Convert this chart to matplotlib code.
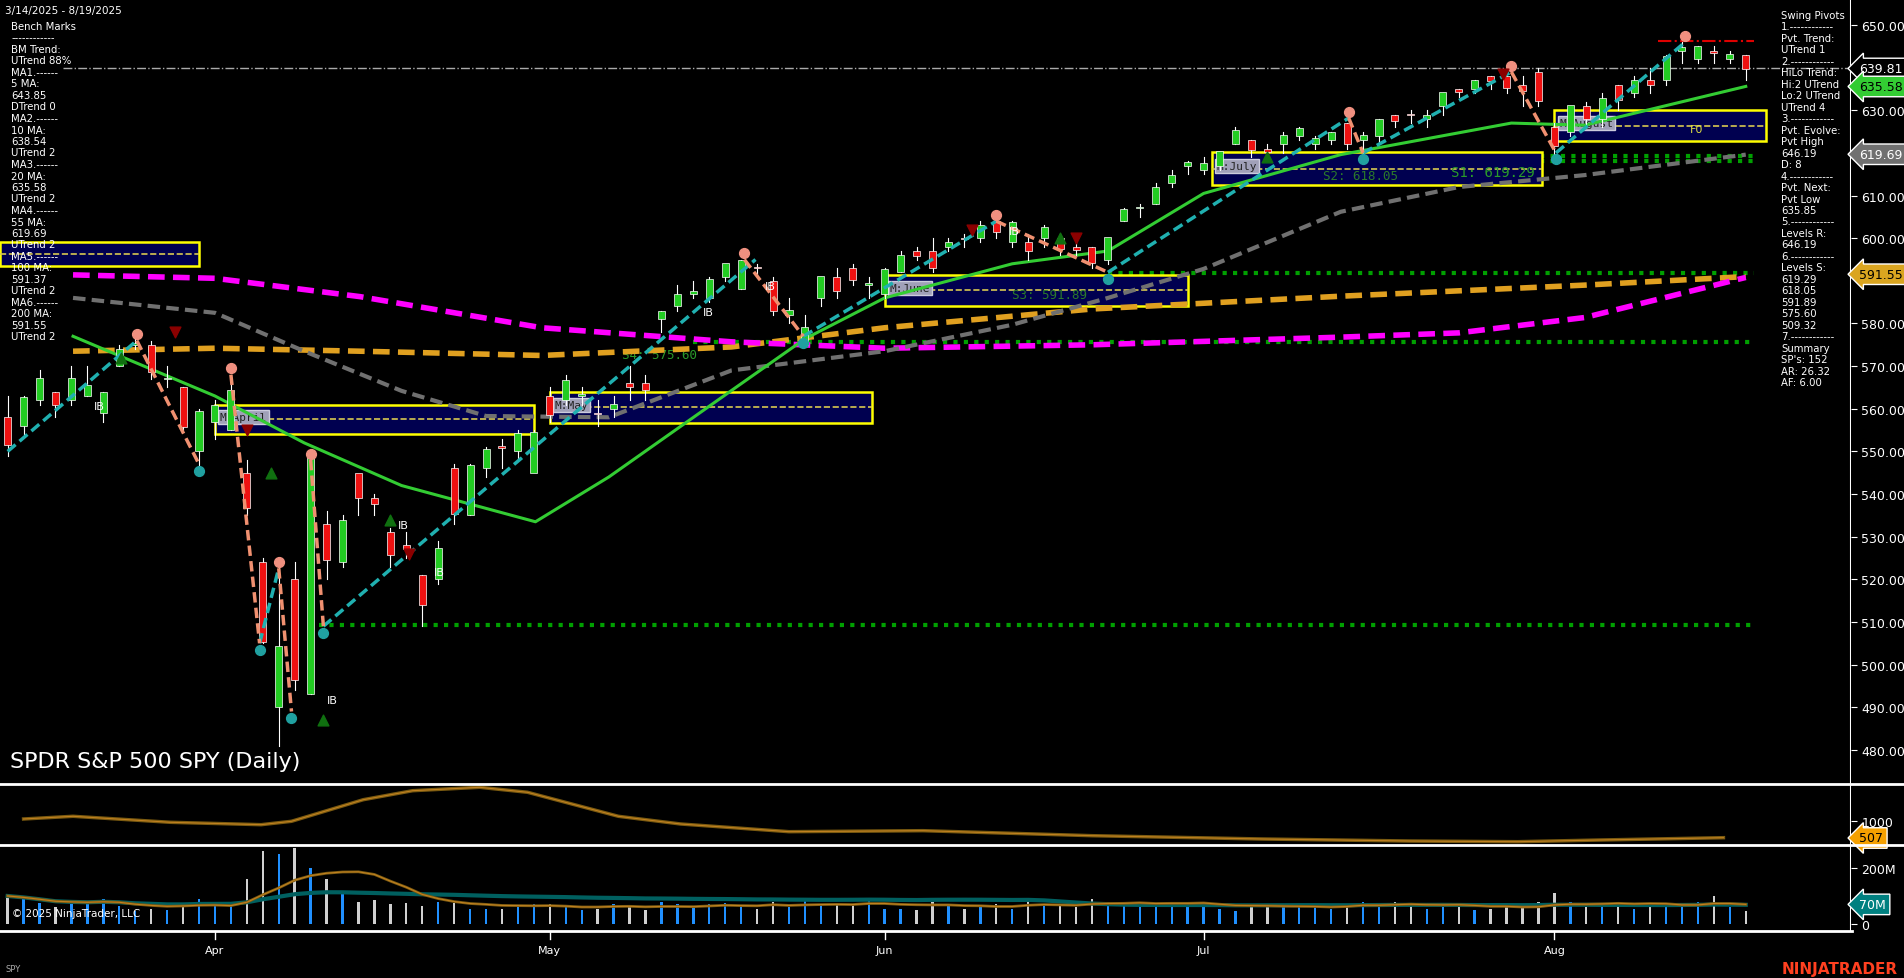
import matplotlib
matplotlib.use("Agg")
import matplotlib.pyplot as plt
import numpy as np
import pandas as pd

W, H = 1904, 979
# ---------------- data ----------------
opens = [558,556,562,564,562,563,559,570,575,575,567,565,550,
         557,555,545,524,490,520,493,533,524,545,539,531,528,521,520,546,535,546,551,550,545,
         563,562,563,559,560,566,566,581,584,587,586,591,588,593,590,582,575,586,591,593,589,
         587,592,597,597,598,600,600,604,599,599,600,600,598,598,595,604,607,608,613,617,
         616,617,622,623,621,622,624,622,623,627,623,624,629,629,628,631,635,635,638,638,636,639,
         626,625,631,628,636,634,637,637,644,642,644,642,643]
highs = [563,563,569,564,570,570,564,575,577,576,570,565,560,
         562,568,548,525,524,524,550,536,535,540,540,532,531,521,529,547,547,551,553,555,555,
         565,568,565,562,563,570,568,583,589,590,591,594,595,594,591,586,582,591,593,594,591,
         593,597,598,600,600,601,604,605,604,601,603,601,600,598,600,607,608,613,616,618,
         619,620,626,623,622,625,626,624,625,627,625,628,629,630,630,634,635,637,638,638,638,640,
         627,631,632,634,636,638,640,643,646,645,645,644,643]
lows = [549,554,561,558,561,563,557,570,574,567,565,555,546,
        553,555,535,505,481,494,493,520,523,535,535,523,525,509,519,533,535,544,546,548,546,
        557,561,561,556,558,562,562,578,583,586,585,590,588,591,582,580,575,584,586,589,586,
        586,592,595,592,597,598,599,600,598,595,598,596,596,593,594,604,605,608,612,615,
        615,616,622,619,618,620,623,621,622,621,619,622,626,627,626,629,633,634,635,634,631,631,
        618,624,626,626,630,633,634,636,641,641,641,641,637]
closes = [551.4,562.8,567.2,561.0,567.1,565.5,564.0,574.1,575.5,568.6,567.1,555.7,559.4,
          561.0,564.5,536.7,505.3,504.4,496.5,548.6,524.6,533.9,539.1,537.6,525.7,527.0,513.9,527.3,535.4,546.7,550.6,550.9,554.3,554.5,
          558.5,566.8,563.5,558.8,561.2,565.1,564.3,583.0,586.8,587.6,590.5,594.2,594.9,592.9,582.9,583.1,579.1,591.2,587.7,590.1,589.4,
          592.7,596.1,595.9,593.1,599.1,599.7,603.1,601.4,603.8,597.0,602.7,597.5,597.2,594.3,600.2,606.8,607.1,611.9,614.9,617.9,
          617.7,620.5,625.3,620.7,620.3,624.1,625.8,623.6,624.8,622.1,624.2,628.0,627.6,628.8,628.9,634.2,634.4,637.1,636.9,635.3,634.5,632.1,
          621.7,631.2,628.0,632.8,632.3,637.2,635.9,642.7,644.9,645.0,643.4,643.3,639.8]
volumes = [100,90,75,60,70,70,90,65,45,55,50,70,90,
           75,75,160,260,250,270,200,160,110,80,85,70,75,65,80,75,55,55,55,65,70,
           70,65,50,55,70,60,50,80,70,60,70,75,60,55,80,60,85,70,75,70,90,
           55,55,50,80,70,55,65,70,55,90,70,70,60,90,80,75,70,70,75,70,
           70,55,45,70,65,60,70,65,55,70,80,70,80,75,55,60,60,50,55,70,60,80,
           110,80,60,60,70,55,70,75,75,80,100,60,45]

month_idx = [13, 34, 55, 75, 97]
month_lbl = ["Apr", "May", "Jun", "Jul", "Aug"]

ma20_x = [4.1, 13, 18.6, 24.7, 33.1, 37.7, 45.4, 50, 55, 63, 69, 75, 83.6, 94.3, 98.9, 109]
ma20_y = [577, 563, 552, 542, 533.5, 544, 564.3, 576.4, 586, 594, 597, 610.5, 619.6, 627, 626.5, 635.6]
ma55_x = [4.1, 13, 18.6, 24.7, 30, 37.7, 45.4, 55, 63, 69, 75, 83.6, 91, 98.9, 109]
ma55_y = [586, 582.5, 573.5, 564.2, 558.3, 558, 569, 573.5, 579.7, 586, 592.8, 606.2, 612, 614.8, 619.6]
ma100_x = [4.1, 13, 22.1, 33.5, 45.4, 55, 68, 83.6, 91, 98.9, 109]
ma100_y = [591.4, 590.6, 586.3, 579, 575.7, 574.2, 575, 576.8, 577.8, 581.4, 590.8]
ma200_x = [4.1, 13, 22.1, 33.5, 45.4, 55, 68, 83.6, 98.9, 109]
ma200_y = [573.5, 574.2, 573.5, 572.5, 574.5, 579, 583.4, 586.4, 589, 591]

osc_x = [1.0, 4.1, 10.2, 15.9, 17.8, 22.3, 25.4, 29.6, 32.6, 38.3, 42.2, 49, 57.4, 68, 78.7, 87.9, 94.7, 100, 107.6]
osc_y = [1058, 1136, 962, 893, 991, 1617, 1878, 1976, 1832, 1136, 913, 690, 719, 574, 478, 420, 400, 450, 516]

piv_hi = [(8.1,576),(14.0,568),(19.0,548),(17.0,522.6),(46.2,595),(62,604),(84.1,628.2),(94.3,639),(105.2,646)]
piv_lo = [(12,547),(15.8,505),(17.8,489),(19.8,509),(49.9,577),(69,592),(85,620),(97.1,620)]
up_segs = [((0,550),(8.1,576)),((19.8,509),(46.9,595)),((49.9,577),(62,604)),
           ((69,592),(84.1,628.2)),((85,620),(94.3,639)),((97.1,620),(105.2,646)),((15.8,505),(17,522.6))]
dn_segs = [((8.1,576),(12,547)),((14.0,568),(15.8,505)),((17,522.6),(17.8,489)),((19,548),(19.8,509)),
           ((46.2,595),(49.9,577)),((62,604),(69,592)),((84.1,628.2),(85,620)),((94.3,639),(97.1,620))]
boxes = [(-0.5,12,593.4,599,""),(13,33,554,561,"M:April"),(34,54.2,556.6,564,"M:May"),
         (55,74,584.1,591.4,"M:June"),(75.5,96.2,612.4,620.2,"M:July"),(97,110.3,622.8,630,"M:August")]
levels = [(509.32,19.5),(575.60,43),(591.89,69),(618.05,85),(619.29,85)]
ib_pts = [(5.4,560),(43.6,582),(47.5,588),(62.8,601),(24.5,532),(26.7,521),(20,491)]

left_lines = ["Bench Marks","------------","BM Trend:","UTrend 88%","MA1.------","5 MA:","643.85","DTrend 0",
              "MA2.------","10 MA:","638.54","UTrend 2","MA3.------","20 MA:","635.58","UTrend 2","MA4.------",
              "55 MA:","619.69","UTrend 2","MA5.------","100 MA:","591.37","UTrend 2","MA6.------","200 MA:","591.55","UTrend 2"]
right_lines = ["Swing Pivots","1.------------","Pvt. Trend:","UTrend 1","2.------------","HiLo Trend:","Hi:2 UTrend",
               "Lo:2 UTrend","UTrend 4","3.------------","Pvt. Evolve:","Pvt High","646.19","D: 8","4.------------",
               "Pvt. Next:","Pvt Low","635.85","5.------------","Levels R:","646.19","6.------------","Levels S:",
               "619.29","618.05","591.89","575.60","509.32","7.------------","Summary","SP's: 152","AR: 26.32","AF: 6.00"]

# ---------------- figure ----------------
fig = plt.figure(figsize=(W/100, H/100), dpi=100, facecolor="black")
def rect(top, bot, right=1851):
    return [0, 1-bot/H, right/W, (bot-top)/H]

XL = (-0.48, 115.6)
ax = fig.add_axes(rect(0, 785))
ax2 = fig.add_axes(rect(785, 846))
ax3 = fig.add_axes(rect(846, 932))
for a in (ax, ax2, ax3):
    a.set_facecolor("black")
    a.set_xlim(*XL)
    for s in a.spines.values():
        s.set_visible(False)
    a.yaxis.tick_right()
    a.tick_params(axis="y", colors="white", labelsize=9, length=4, direction="out")
    a.set_xticks([])
    a.axvline(XL[1], color="white", lw=1.5)

ticks = [v for v in np.arange(480, 651, 10) if v != 590]
ax.set_ylim(472.0, 656.1)
ax.set_yticks(ticks)
ax.set_yticklabels([f"{v:.2f}" for v in ticks])

x = np.arange(len(closes))
for lv, st in levels:
    ax.plot([st, 109.5], [lv, lv], color="#00a000", lw=3, ls=(0, (1, 1.5)), zorder=2)
ax.plot([3.5, 115.6], [639.81, 639.81], color="#aaaaaa", lw=1, ls="-.", zorder=2)
ax.plot([103.5, 109.5], [646.19, 646.19], color="#dd0000", lw=1.5, ls="-.", zorder=2)

for x0, x1, y0, y1, lbl in boxes:
    ax.add_patch(plt.Rectangle((x0, y0), x1-x0, y1-y0, facecolor="#000050", edgecolor="yellow", lw=1.8, zorder=2))
    ax.plot([x0, x1], [(y0+y1)/2]*2, color="#d8c850", ls="--", lw=1.2, zorder=2)
    if lbl:
        ax.text(x0+0.3, (y0+y1)/2+0.6, lbl, color="#222222", fontsize=8, family="DejaVu Sans Mono",
                va="center", bbox=dict(boxstyle="square,pad=0.15", fc="#a0a0b8", ec="#ccccdd"), zorder=3)
ax.text(63, 586, "S3: 591.89", color="#2a7a2a", fontsize=9, family="DejaVu Sans Mono", zorder=3)
ax.text(38.5, 572, "S4: 575.60", color="#2a9a2a", fontsize=9, family="DejaVu Sans Mono", zorder=3)
ax.text(82.5, 614, "S2: 618.05", color="#2a7a2a", fontsize=9, family="DejaVu Sans Mono", zorder=3)
ax.text(90.5, 614.6, "S1: 619.29", color="#2a9a2a", fontsize=10, family="DejaVu Sans Mono", zorder=3)
ax.text(105.5, 624.8, "F0", color="#dddd44", fontsize=8, zorder=3)

ax.plot(ma200_x, ma200_y, color="#e0a020", lw=4, ls=(0, (3, 1.5)), zorder=3)
ax.plot(ma100_x, ma100_y, color="#ff00ff", lw=4, ls=(0, (3, 1.5)), zorder=3)
ax.plot(ma55_x, ma55_y, color="#707070", lw=3, ls=(0, (3, 1.5)), zorder=3)
ax.plot(ma20_x, ma20_y, color="#33cc33", lw=2.2, zorder=3)

for i in range(len(closes)):
    o, h, l, c = opens[i], highs[i], lows[i], closes[i]
    up = c >= o
    ax.plot([i, i], [l, h], color="white", lw=0.8, zorder=4)
    ax.add_patch(plt.Rectangle((i-0.22, min(o, c)), 0.44, max(abs(c-o), 0.3),
                 facecolor="#22cc22" if up else "#ee1111", edgecolor="white", lw=0.5, zorder=5))

for (a0, a1) in up_segs:
    ax.plot([a0[0], a1[0]], [a0[1], a1[1]], color="#20b0b0", lw=2.5, ls=(0, (3, 1.5)), zorder=6)
for (a0, a1) in dn_segs:
    ax.plot([a0[0], a1[0]], [a0[1], a1[1]], color="#f09070", lw=2.5, ls=(0, (3, 1.5)), zorder=6)
ax.scatter([p[0] for p in piv_hi], [p[1]+1.5 for p in piv_hi], s=50, color="#f09080", zorder=7)
ax.scatter([p[0] for p in piv_lo], [p[1]-1.5 for p in piv_lo], s=50, color="#20a0a0", zorder=7)
ax.scatter([10.5, 15, 25.2, 93.8, 60.5, 67], [578, 555, 526, 638.5, 602, 600], marker="v", s=60, color="#8b0000", zorder=7)
ax.scatter([7.1, 19.8, 16.5, 24, 66, 79], [572, 487, 545, 534, 600, 619], marker="^", s=60, color="#107010", zorder=7)
for px, py in ib_pts:
    ax.text(px, py, "IB", color="white", fontsize=8, zorder=8)

fig.text(5/W, 1-11/H, "3/14/2025 - 8/19/2025", color="white", fontsize=7.5, va="center")
for k, t in enumerate(left_lines):
    fig.text(11/W, 1-(27+k*11.5)/H, t, color="white", fontsize=7.3, va="center")
for k, t in enumerate(right_lines):
    fig.text(1781/W, 1-(16+k*11.47)/H, t, color="white", fontsize=7.3, va="center")
fig.text(10/W, 1-762/H, "SPDR S&P 500 SPY (Daily)", color="white", fontsize=16, va="center")

def tag(a, y, txt, fc, tc):
    a.annotate(txt, xy=(1.0, y), xycoords=("axes fraction", "data"), xytext=(6, 0), textcoords="offset points",
               color=tc, fontsize=9, va="center", ha="left",
               bbox=dict(boxstyle="larrow,pad=0.3", fc=fc, ec="white", lw=1), annotation_clip=False, zorder=10)
tag(ax, 639.81, "639.81", "black", "white")
tag(ax, 635.58, "635.58", "#33cc33", "black")
tag(ax, 619.69, "619.69", "#707070", "white")
tag(ax, 591.55, "591.55", "#daa520", "black")

ax2.set_ylim(304, 2072)
ax2.set_yticks([1000]); ax2.set_yticklabels(["1000"])
ax2.plot(osc_x, osc_y, color="#7a5a10", lw=2.5, zorder=2)
ax2.plot(osc_x, osc_y, color="#c08020", lw=0.8, zorder=3)
tag(ax2, 507, "507", "#f5a000", "black")

ax3.set_ylim(-25, 282)
ax3.set_yticks([0, 200]); ax3.set_yticklabels(["0", "200M"])
vcol = ["#2090ff" if closes[i] >= opens[i] else "#d0d0d0" for i in range(len(closes))]
ax3.bar(x, volumes, width=0.15, color=vcol, zorder=2)
vs = pd.Series(volumes, dtype=float)
ax3.plot(x, vs.rolling(50, min_periods=1).mean(), color="#006060", lw=3, zorder=3)
ax3.plot(x, vs.rolling(8, min_periods=1).mean(), color="#7a5a10", lw=2, zorder=3)
ax3.plot(x, vs.rolling(8, min_periods=1).mean(), color="#c08020", lw=0.8, zorder=4)
tag(ax3, 70, "70M", "#008080", "white")
ax3.text(0.3, 27, "© 2025 NinjaTrader, LLC", color="white", fontsize=7.5, zorder=5)

for yy in (785, 846):
    fig.add_artist(plt.Line2D([0, 1], [1-yy/H]*2, color="white", lw=2))
fig.add_artist(plt.Line2D([0, 1852/W], [1-932/H]*2, color="white", lw=2))
def xpix(i):
    return (i - XL[0]) / (XL[1] - XL[0]) * 1851
for i, lb in zip(month_idx, month_lbl):
    xp = xpix(i)
    fig.add_artist(plt.Line2D([xp/W]*2, [1-932/H, 1-940/H], color="white", lw=1))
    fig.text(xp/W, 1-951/H, lb, color="white", fontsize=8, ha="center", va="center")
fig.text(6/W, 1-970/H, "SPY", color="#aaaaaa", fontsize=6, va="center")
fig.text(1898/W, 1-970/H, "NINJATRADER", color="#ff4020", fontsize=11, weight="bold", ha="right", va="center")

fig.savefig("out.png", dpi=100, facecolor="black")
